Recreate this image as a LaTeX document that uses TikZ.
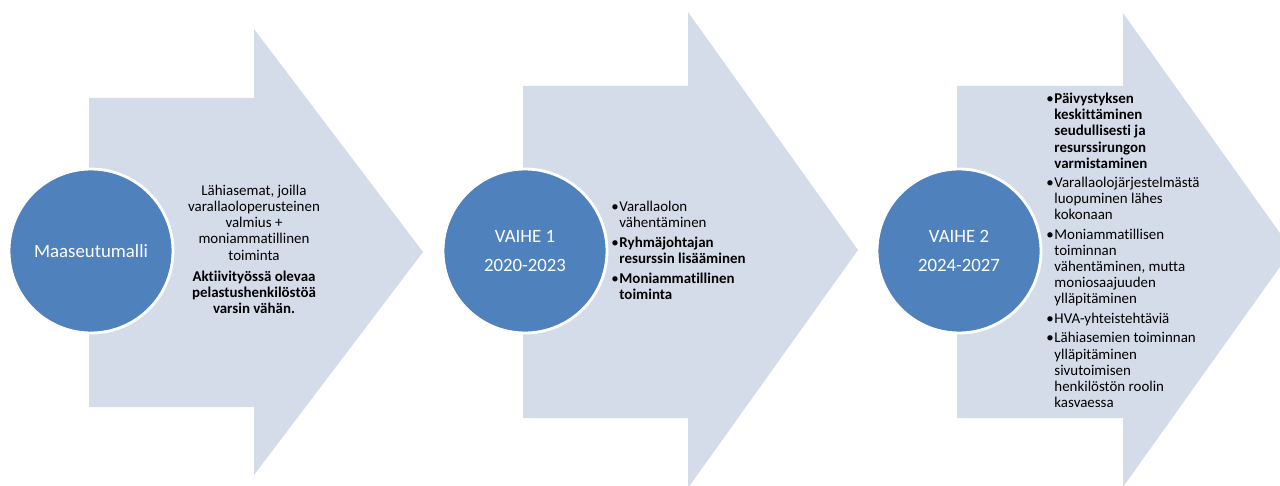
\documentclass[tikz,border=0pt]{standalone}
\usepackage{fontspec}
\setmainfont{Carlito}[Ligatures=NoCommon]
\usetikzlibrary{positioning}
\definecolor{stagefill}{HTML}{D4DCE9}
\definecolor{phaseblue}{HTML}{4F81BD}
\tikzstyle{stage}=[fill=stagefill]
\tikzstyle{phase}=[circle,fill=phaseblue,draw=white,line width=1.6pt,minimum size=3.28cm,inner sep=0pt,text=white,align=center,font=\fontsize{10.7}{12.6}\selectfont]
\tikzstyle{notes}=[inner sep=0pt,anchor=north west,align=left,font=\fontsize{8.5}{9.15}\selectfont]
\newcommand{\itm}{\makebox[4.6pt][l]{\textbullet}}
\newcommand{\nxt}{\hspace*{4.6pt}}

\begin{document}
\begin{tikzpicture}[x=0.02cm,y=-0.02cm]
	\clip (0,0) rectangle (1280,486);

	% stage arrows
	\fill[stage] (89,98) -- (254,98) -- (254,29) -- (423,252) -- (254,475) -- (254,407) -- (89,407) -- cycle;
	\fill[stage] (523,86) -- (688,86) -- (688,12) -- (858,250) -- (688,488) -- (688,418) -- (523,418) -- cycle;
	\fill[stage] (957,86) -- (1123,86) -- (1123,13) -- (1292,250) -- (1123,487) -- (1123,418) -- (957,418) -- cycle;

	% phases
	\node[phase] (rural) at (91,251) {Maaseutumalli};
	\node[phase] (phase1) at (525,251) {VAIHE 1\\[3.5pt]2020-2023};
	\node[phase] (phase2) at (959,251) {VAIHE 2\\[3.5pt]2024-2027};

	% texts
	\node[notes,anchor=north,align=center] (ruraltxt) at (254,185) {L\"ahiasemat, joilla\\varallaoloperusteinen\\valmius +\\moniammatillinen\\toiminta\\[3.2pt]
		\textbf{Aktiivity\"oss\"a olevaa}\\\textbf{pelastushenkil\"ost\"o\"a}\\\textbf{varsin v\"ah\"an.}};
	\node[notes] (phase1txt) at (611,201) {\itm Varallaolon\\\nxt v\"ahent\"aminen\\[2.2pt]
		\itm\textbf{Ryhm\"ajohtajan}\\\nxt\textbf{resurssin lis\"a\"aminen}\\[2.2pt]
		\itm\textbf{Moniammatillinen}\\\nxt\textbf{toiminta}};
	\node[notes] (phase2txt) at (1046,93) {\itm\textbf{P\"aivystyksen}\\\nxt\textbf{keskitt\"aminen}\\\nxt\textbf{seudullisesti ja}\\\nxt\textbf{resurssirungon}\\\nxt\textbf{varmistaminen}\\[2pt]
		\itm Varallaoloj\"arjestelm\"ast\"a\\\nxt luopuminen l\"ahes\\\nxt kokonaan\\[2pt]
		\itm Moniammatillisen\\\nxt toiminnan\\\nxt v\"ahent\"aminen, mutta\\\nxt moniosaajuuden\\\nxt yll\"apit\"aminen\\[2pt]
		\itm HVA-yhteisteht\"avi\"a\\[2pt]
		\itm L\"ahiasemien toiminnan\\\nxt yll\"apit\"aminen\\\nxt sivutoimisen\\\nxt henkil\"ost\"on roolin\\\nxt kasvaessa};
\end{tikzpicture}
\end{document}
